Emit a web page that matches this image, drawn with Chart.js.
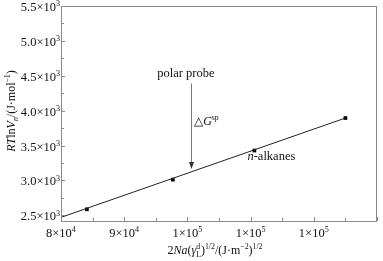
<!DOCTYPE html>
<html>
<head>
<meta charset="utf-8">
<script src="https://cdn.jsdelivr.net/npm/chart.js@4/dist/chart.umd.min.js"></script>
<style>
  html, body { margin: 0; padding: 0; background: #fff; }
</style>
</head>
<body>
<canvas id="chart" width="383" height="261"></canvas>
<script>
// measured n-alkane points
const probeX = [84100, 97700, 110600, 125000];
const probeY = [2586, 3011, 3428, 3894];
// regression line through the alkanes
const fitX = [80000, 125000];
const fitY = [2470, 3894];
// polar probe arrow (delta G)
const arrowX = 100500;
const arrowFrom = 4389;
const arrowTo = 3165;
// axis ticks
const xTicks = [80000, 90000, 100000, 110000, 120000];
const yTicks = [2500, 3000, 3500, 4000, 4500, 5000, 5500];

const SERIF = '"Liberation Serif", "Times New Roman", serif';
const AXIS = '#8a8a8a';

function font(size, italic) {
    return (italic ? 'italic ' : '') + size + 'px ' + SERIF;
}

// parts: {t, i, s:'sup'|'sub'} or {sup, sub, i} for stacked scripts
function richWidth(ctx, parts, size) {
    let w = 0;
    parts.forEach(p => {
        const small = size * 0.65;
        if (p.sup !== undefined) {
            ctx.font = font(small, p.i);
            w += Math.max(ctx.measureText(p.sup).width, ctx.measureText(p.sub).width);
        } else {
            ctx.font = font(p.s ? small : size, p.i);
            w += ctx.measureText(p.t).width;
        }
    });
    return w;
}

function drawRich(ctx, parts, x, y, size, align) {
    const w = richWidth(ctx, parts, size);
    let cx = x;
    if (align === 'center') cx = x - w / 2;
    if (align === 'right') cx = x - w;
    ctx.textAlign = 'left';
    ctx.textBaseline = 'alphabetic';
    const small = size * 0.65;
    parts.forEach(p => {
        if (p.sup !== undefined) {
            ctx.font = font(small, p.i);
            ctx.fillText(p.sup, cx, y - size * 0.38);
            ctx.fillText(p.sub, cx, y + size * 0.22);
            cx += Math.max(ctx.measureText(p.sup).width, ctx.measureText(p.sub).width);
        } else {
            ctx.font = font(p.s ? small : size, p.i);
            let dy = 0;
            if (p.s === 'sup') dy = -size * 0.38;
            if (p.s === 'sub') dy = size * 0.22;
            ctx.fillText(p.t, cx, y + dy);
            cx += ctx.measureText(p.t).width;
        }
    });
}

const decorations = {
    id: 'decorations',
    afterDraw(chart) {
        const ctx = chart.ctx;
        const a = chart.chartArea;
        const xs = chart.scales.x, ys = chart.scales.y;
        ctx.save();
        ctx.fillStyle = '#111';

        // frame
        ctx.strokeStyle = AXIS;
        ctx.lineWidth = 1;
        ctx.strokeRect(a.left + 0.5, a.top + 0.5, a.right - a.left - 1, a.bottom - a.top);

        // inward ticks
        ctx.beginPath();
        for (let v = xs.min; v <= xs.max; v += 5000) {
            const px = Math.round(xs.getPixelForValue(v)) + 0.5;
            const len = v % 10000 === 0 ? 4 : 3;
            ctx.moveTo(px, a.bottom);
            ctx.lineTo(px, a.bottom - len);
        }
        for (let v = 2500; v <= ys.max; v += 250) {
            const py = Math.round(ys.getPixelForValue(v)) + 0.5;
            const len = v % 500 === 0 ? 4 : 3;
            ctx.moveTo(a.left, py);
            ctx.lineTo(a.left + len, py);
        }
        ctx.stroke();

        // tick labels
        xTicks.forEach(v => {
            const e = Math.floor(Math.log10(v));
            const m = Math.round(v / Math.pow(10, e));
            drawRich(ctx, [{t: m + '×10'}, {t: String(e), s: 'sup'}],
                xs.getPixelForValue(v), a.bottom + 16, 12.5, 'center');
        });
        yTicks.forEach(v => {
            const e = Math.floor(Math.log10(v));
            const m = (v / Math.pow(10, e)).toFixed(1);
            drawRich(ctx, [{t: m + '×10'}, {t: String(e), s: 'sup'}],
                a.left - 1, ys.getPixelForValue(v) + 5, 12.5, 'right');
        });

        // axis titles
        drawRich(ctx, [
            {t: '2'}, {t: 'Na', i: true}, {t: '('}, {t: 'γ', i: true},
            {sup: 'd', sub: 'L', i: false}, {t: ')'}, {t: '1/2', s: 'sup'},
            {t: '/(J·m'}, {t: '−2', s: 'sup'}, {t: ')'}, {t: '1/2', s: 'sup'}
        ], (a.left + a.right) / 2 - 4, 254, 12, 'center');

        ctx.save();
        ctx.translate(15, 111);
        ctx.rotate(-Math.PI / 2);
        drawRich(ctx, [
            {t: 'RT', i: true}, {t: 'ln'}, {t: 'V', i: true}, {t: 'n', i: true, s: 'sub'},
            {t: '/(J·mol'}, {t: '−1', s: 'sup'}, {t: ')'}
        ], 0, 0, 12, 'center');
        ctx.restore();

        // arrow for polar probe
        const ax = Math.round(xs.getPixelForValue(arrowX)) + 0.5;
        const ay0 = ys.getPixelForValue(arrowFrom);
        const ay1 = ys.getPixelForValue(arrowTo);
        ctx.strokeStyle = '#777';
        ctx.beginPath();
        ctx.moveTo(ax, ay0);
        ctx.lineTo(ax, ay1 - 6);
        ctx.stroke();
        ctx.fillStyle = '#333';
        ctx.beginPath();
        ctx.moveTo(ax - 2.5, ay1 - 7);
        ctx.lineTo(ax + 2.5, ay1 - 7);
        ctx.lineTo(ax, ay1);
        ctx.closePath();
        ctx.fill();

        // annotations
        ctx.fillStyle = '#111';
        drawRich(ctx, [{t: 'polar probe'}],
            xs.getPixelForValue(99760), ys.getPixelForValue(4478), 12.5, 'center');
        drawRich(ctx, [{t: '△'}, {t: 'G', i: true}, {t: 'sp', s: 'sup'}],
            xs.getPixelForValue(101070), ys.getPixelForValue(3796), 12, 'left');
        drawRich(ctx, [{t: 'n', i: true}, {t: '-alkanes'}],
            xs.getPixelForValue(109500), ys.getPixelForValue(3294), 12.5, 'left');
        ctx.restore();
    }
};

new Chart(document.getElementById('chart'), {
    type: 'scatter',
    data: {
        datasets: [
            {
                label: 'fit',
                data: fitX.map((x, i) => ({x: x, y: fitY[i]})),
                showLine: true,
                borderColor: '#222',
                borderWidth: 1,
                pointRadius: 0
            },
            {
                label: 'n-alkanes',
                data: probeX.map((x, i) => ({x: x, y: probeY[i]})),
                pointStyle: 'rect',
                pointRadius: 2.6,
                backgroundColor: '#000',
                borderColor: '#000',
                borderWidth: 0
            }
        ]
    },
    options: {
        responsive: false,
        animation: false,
        layout: { padding: { top: 6, right: 6, left: 0, bottom: 0 } },
        plugins: { legend: { display: false }, tooltip: { enabled: false } },
        scales: {
            x: {
                type: 'linear', min: 80000, max: 130000,
                grid: { display: false }, border: { display: false },
                ticks: { display: false },
                afterFit: s => { s.height = 40; }
            },
            y: {
                type: 'linear', min: 2418, max: 5500,
                grid: { display: false }, border: { display: false },
                ticks: { display: false },
                afterFit: s => { s.width = 61; }
            }
        }
    },
    plugins: [decorations]
});
</script>
</body>
</html>
